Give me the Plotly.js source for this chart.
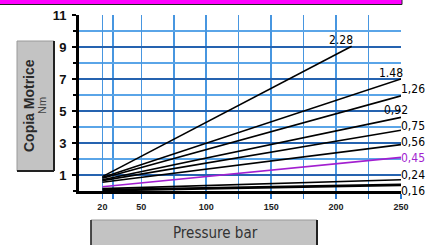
<!DOCTYPE html>
<html>
<head>
<meta charset="utf-8">
<script src="https://cdn.plot.ly/plotly-3.0.1.min.js"></script>
<style>html,body{margin:0;padding:0;background:#fff;}#chart{width:438px;height:245px;}</style>
</head>
<body>
<div id="chart"></div>
<script>
// ---- data ----
const labels   = ['2.28', '1.48', '1,26', '0,92', '0,75', '0,56', '0,45', '0,24', '0,16'];
const pStart   = [20, 20, 20, 20, 20, 20, 20, 20, 20];
const pEnd     = [212, 250, 250, 250, 250, 250, 250, 250, 250];
const tStart   = [0.9, 0.85, 0.8, 0.7, 0.65, 0.55, 0.27, 0.15, 0.05];
const tEnd     = [9.05, 7.0, 5.95, 4.6, 3.8, 2.9, 2.1, 0.7, 0.38];
const xTickVals = [20, 50, 100, 150, 200, 250];
const xTickText = ['20', '50', '100', '150', '200', '250'];
const xMinorVals = [28, 75, 125, 175, 225];

// ---- styling / layout ----
const W = 438, H = 245, ML = 79, MR = 37, MT = 15, MB = 54;
const PW = W - ML - MR, PH = H - MT - MB;
const px = v => (v - ML) / PW;          // pixel -> paper x
const py = v => (H - MB - v) / PH;      // pixel -> paper y
const lineColors = labels.map(l => l === '0,45' ? '#a21fd0' : '#000000');
const lineWidths = labels.map(l => l === '0,16' ? 2.8 : 1.6);
const labelShift = [[-11, 6], [-10, 6.5], [12, 7], [-5, 7], [12, 4], [12, 3], [12, -1], [12, 5], [12, -6]];

const traces = labels.map((l, i) => ({
  type: 'scatter', mode: 'lines',
  x: [pStart[i], pEnd[i]], y: [tStart[i], tEnd[i]],
  line: {color: lineColors[i], width: lineWidths[i]},
  hoverinfo: 'skip', showlegend: false
}));

const annotations = labels.map((l, i) => ({
  x: pEnd[i], y: tEnd[i], xref: 'x', yref: 'y', text: l, showarrow: false,
  xanchor: 'center', yanchor: 'middle', xshift: labelShift[i][0], yshift: labelShift[i][1],
  font: {family: 'Liberation Sans Narrow, DejaVu Sans Condensed, sans-serif', size: 12, color: lineColors[i]}
}));
annotations.push({
  x: px(29), y: py(106), xref: 'paper', yref: 'paper', text: '<b>Copia Motrice</b>', textangle: -90,
  showarrow: false, xanchor: 'center', yanchor: 'middle',
  font: {family: 'Liberation Sans, Arial, sans-serif', size: 14, color: '#2a2a2a'}
});
annotations.push({
  x: px(42), y: py(106), xref: 'paper', yref: 'paper', text: 'Nm', textangle: -90,
  showarrow: false, xanchor: 'center', yanchor: 'middle',
  font: {family: 'Liberation Sans, Arial, sans-serif', size: 11, color: '#444'}
});
annotations.push({
  x: px(215), y: py(233), xref: 'paper', yref: 'paper', text: 'Pressure bar',
  showarrow: false, xanchor: 'center', yanchor: 'middle',
  font: {family: 'DejaVu Sans Condensed, DejaVu Sans, sans-serif', size: 15, color: '#333'}
});

const shapes = [
  // magenta strip at top
  {type: 'rect', xref: 'paper', yref: 'paper', x0: px(-2), x1: px(402), y0: py(-3), y1: py(4.5),
   fillcolor: '#ff00ff', line: {color: '#222', width: 1}, layer: 'above'},
  // y-title box
  {type: 'rect', xref: 'paper', yref: 'paper', x0: px(17), x1: px(54), y0: py(171), y1: py(41),
   fillcolor: '#c3c3c3', line: {color: '#9a9a9a', width: 1}},
  {type: 'line', xref: 'paper', yref: 'paper', x0: px(54), x1: px(54), y0: py(171), y1: py(41), line: {color: '#222', width: 2}},
  {type: 'line', xref: 'paper', yref: 'paper', x0: px(17), x1: px(54), y0: py(171), y1: py(171), line: {color: '#222', width: 2}},
  // x-title box
  {type: 'rect', xref: 'paper', yref: 'paper', x0: px(91), x1: px(317), y0: py(250), y1: py(220),
   fillcolor: '#c3c3c3', line: {color: '#9a9a9a', width: 1}},
  {type: 'line', xref: 'paper', yref: 'paper', x0: px(91), x1: px(91), y0: py(250), y1: py(220), line: {color: '#222', width: 1.5}},
  {type: 'line', xref: 'paper', yref: 'paper', x0: px(317), x1: px(317), y0: py(250), y1: py(220), line: {color: '#222', width: 2}}
];

const layout = {
  width: W, height: H,
  margin: {l: ML, r: MR, t: MT, b: MB, pad: 0},
  paper_bgcolor: '#ffffff', plot_bgcolor: '#ffffff',
  showlegend: false,
  xaxis: {
    range: [2, 250], tickmode: 'array', tickvals: xTickVals, ticktext: xTickText,
    showgrid: true, gridcolor: '#4796e0', gridwidth: 1.5,
    ticks: 'outside', ticklen: 5, tickcolor: '#2a7ad0', tickwidth: 1.5,
    minor: {tickmode: 'array', tickvals: xMinorVals, showgrid: true, gridcolor: '#4796e0', gridwidth: 1.5,
            ticks: 'outside', ticklen: 5, tickcolor: '#2a7ad0'},
    showline: true, linecolor: '#000', linewidth: 3, zeroline: false,
    tickfont: {family: 'Liberation Sans, Arial, sans-serif', size: 9, color: '#222', weight: 'bold'},
    fixedrange: true
  },
  yaxis: {
    range: [0, 11], tick0: 1, dtick: 2,
    showgrid: true, gridcolor: '#2563b0', gridwidth: 2,
    ticks: 'outside', ticklen: 4, tickcolor: '#000', tickwidth: 2,
    minor: {tick0: 0, dtick: 1, showgrid: true, gridcolor: '#5aa5e8', gridwidth: 1.5,
            ticks: 'outside', ticklen: 3, tickcolor: '#000'},
    showline: true, linecolor: '#000', linewidth: 3, zeroline: false,
    ticklabelstandoff: 3,
    tickfont: {family: 'Liberation Sans, Arial, sans-serif', size: 13, color: '#111', weight: 'bold'},
    fixedrange: true
  },
  shapes: shapes,
  annotations: annotations
};

Plotly.newPlot('chart', traces, layout, {displayModeBar: false, staticPlot: true});
</script>
</body>
</html>
